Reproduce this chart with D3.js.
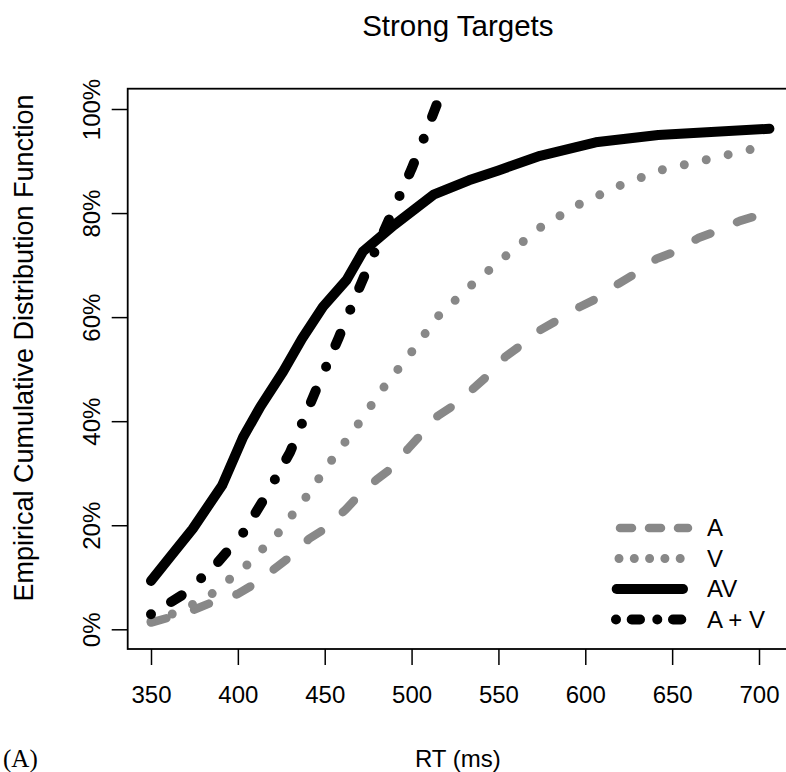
<!DOCTYPE html>
<html>
<head>
<meta charset="utf-8">
<script src="https://cdn.jsdelivr.net/npm/d3@7"></script>
<style>
  html, body { margin: 0; padding: 0; background: #fff; }
  svg { display: block; font-family: "Liberation Sans", Arial, Helvetica, sans-serif; }
</style>
</head>
<body>
<svg id="chart" width="786" height="772"></svg>
<script>
// Data: [RT (ms), cumulative %]
const seriesA = [
    [350, 1.3], [365, 2.7], [375, 3.8], [386, 5.3], [400, 6.8], [409, 8.6], [421, 11.6],
    [430, 13.9], [441, 17.4], [450, 19.3], [462, 23], [469, 25.5], [480, 28.8], [489, 31.1],
    [498, 34.7], [507, 38], [515, 41], [525, 43.2], [535, 46.1], [545, 49.1], [554, 52.4],
    [563, 54.6], [574, 57.5], [586, 59.8], [597, 62], [608, 63.8], [619, 66.4], [628, 68.2],
    [641, 71.2], [652, 72.6], [665, 75.2], [674, 76.3], [689, 78.5], [700, 79.6]
];
const seriesV = [
    [350, 1.5], [367, 3.5], [385, 6.8], [405, 12.3], [423, 18.4], [439, 25.3], [454, 32.5],
    [469, 39.3], [484, 46.5], [500, 53.3], [515, 60.1], [534, 66], [554, 71.7], [574, 77.2],
    [596, 81.6], [620, 85.3], [644, 88.3], [669, 90.2], [700, 92.6]
];
const seriesAV = [
    [350, 9.3], [361.5, 14.1], [374, 19.3], [391, 27.7], [403, 36.9], [413, 42.8], [426, 49.5],
    [437, 55.9], [449, 62], [462.5, 67.1], [472, 72.6], [490, 77.7], [513, 83.6], [533, 86.3],
    [550, 88.2], [574, 91], [606, 93.6], [642, 95], [706, 96.2]
];
const seriesAplusV = [
    [350, 2.9], [370, 7], [388, 12.7], [403, 18.5], [415, 25], [430, 34], [445, 46],
    [458, 56], [471, 66.5], [480, 73.5], [490, 81], [500, 88.5], [507, 94.3], [515, 101.3]
];

const xTicks = [350, 400, 450, 500, 550, 600, 650, 700];
const yTicks = [0, 20, 40, 60, 80, 100];
const legendLabels = ["A", "V", "AV", "A + V"];

const gray = "#888888";
const styles = [
    { data: seriesA, color: gray, width: 8.5, dash: "16 29", legendDash: "12 17" },
    { data: seriesV, color: gray, width: 9, dash: "0 22.5", legendDash: "0 15.3" },
    { data: seriesAV, color: "#000", width: 10, dash: null, legendDash: null },
    { data: seriesAplusV, color: "#000", width: 10, dash: "0 23.5 12.5 26", legendDash: "0 15.7 8.3 17.3" }
];

const translate = (x, y) => `translate(${x}, ${y})`;

const svg = d3.select("#chart");
const box = { left: 127.7, right: 788, top: 88.7, bottom: 649 };

const x = d3.scaleLinear().domain([350, 700]).range([151, 759]);
const y = d3.scaleLinear().domain([0, 100]).range([629.3, 109]);

// Title
svg.append("text")
    .attr("x", (box.left + box.right) / 2)
    .attr("y", 36)
    .attr("text-anchor", "middle")
    .attr("font-size", 29.5)
    .text("Strong Targets");

// Lines
const line = d3.line().x(d => x(d[0])).y(d => y(d[1]));
svg.append("clipPath").attr("id", "plotClip")
    .append("rect")
    .attr("x", box.left).attr("y", box.top)
    .attr("width", box.right - box.left).attr("height", box.bottom - box.top);

svg.append("g")
    .attr("clip-path", "url(#plotClip)")
    .selectAll("path")
    .data(styles)
    .join("path")
    .attr("d", d => line(d.data))
    .attr("fill", "none")
    .attr("stroke", d => d.color)
    .attr("stroke-width", d => d.width)
    .attr("stroke-linecap", "round")
    .attr("stroke-linejoin", "round")
    .attr("stroke-dasharray", d => d.dash);

// Box
svg.append("rect")
    .attr("x", box.left).attr("y", box.top)
    .attr("width", box.right - box.left).attr("height", box.bottom - box.top)
    .attr("fill", "none").attr("stroke", "#000").attr("stroke-width", 1.8);

// X axis
const xAxis = svg.append("g")
    .attr("transform", translate(0, box.bottom))
    .call(d3.axisBottom(x).tickValues(xTicks).tickSize(16).tickPadding(21).tickFormat(d3.format("d")));
xAxis.select(".domain").remove();
xAxis.selectAll("line").attr("stroke-width", 1.5);
xAxis.selectAll("text").attr("font-size", 24).attr("font-family", null).attr("fill", "#000");

// Y axis (labels parallel to the axis)
const yAxis = svg.append("g")
    .attr("transform", translate(box.left, 0))
    .call(d3.axisLeft(y).tickValues(yTicks).tickSize(16).tickFormat(d => d + "%"));
yAxis.select(".domain").remove();
yAxis.selectAll("line").attr("stroke-width", 1.5);
yAxis.selectAll("text")
    .attr("x", null).attr("dy", null)
    .attr("transform", translate(-27.7, 0) + " rotate(-90)")
    .attr("text-anchor", "middle")
    .attr("font-size", 24).attr("font-family", null).attr("fill", "#000");

// Axis titles
svg.append("text")
    .attr("x", (box.left + box.right) / 2)
    .attr("y", 767)
    .attr("text-anchor", "middle")
    .attr("font-size", 24)
    .text("RT (ms)");

svg.append("text")
    .attr("transform", translate(33, 348) + " rotate(-90)")
    .attr("text-anchor", "middle")
    .attr("font-size", 27)
    .text("Empirical Cumulative Distribution Function");

svg.append("text")
    .attr("x", 3)
    .attr("y", 767)
    .attr("font-family", "'Liberation Serif', 'Times New Roman', serif")
    .attr("font-size", 25)
    .text("(A)");

// Legend
const legendY = [528, 558.5, 589, 619.5];
const legendStart = [620, 619, 616.7, 616];
const legendEnd = [688, 681, 683, 681.3];
const legend = svg.append("g").attr("class", "legend");
const items = legend.selectAll("g")
    .data(styles)
    .join("g")
    .attr("transform", (d, i) => translate(0, legendY[i]));
items.append("path")
    .attr("d", (d, i) => `M${legendStart[i]},0H${legendEnd[i]}`)
    .attr("stroke", d => d.color)
    .attr("stroke-width", d => d.width)
    .attr("stroke-linecap", "round")
    .attr("stroke-dasharray", d => d.legendDash);
items.append("text")
    .attr("x", 707)
    .attr("y", 8.4)
    .attr("font-size", 24)
    .text((d, i) => legendLabels[i]);
</script>
</body>
</html>
